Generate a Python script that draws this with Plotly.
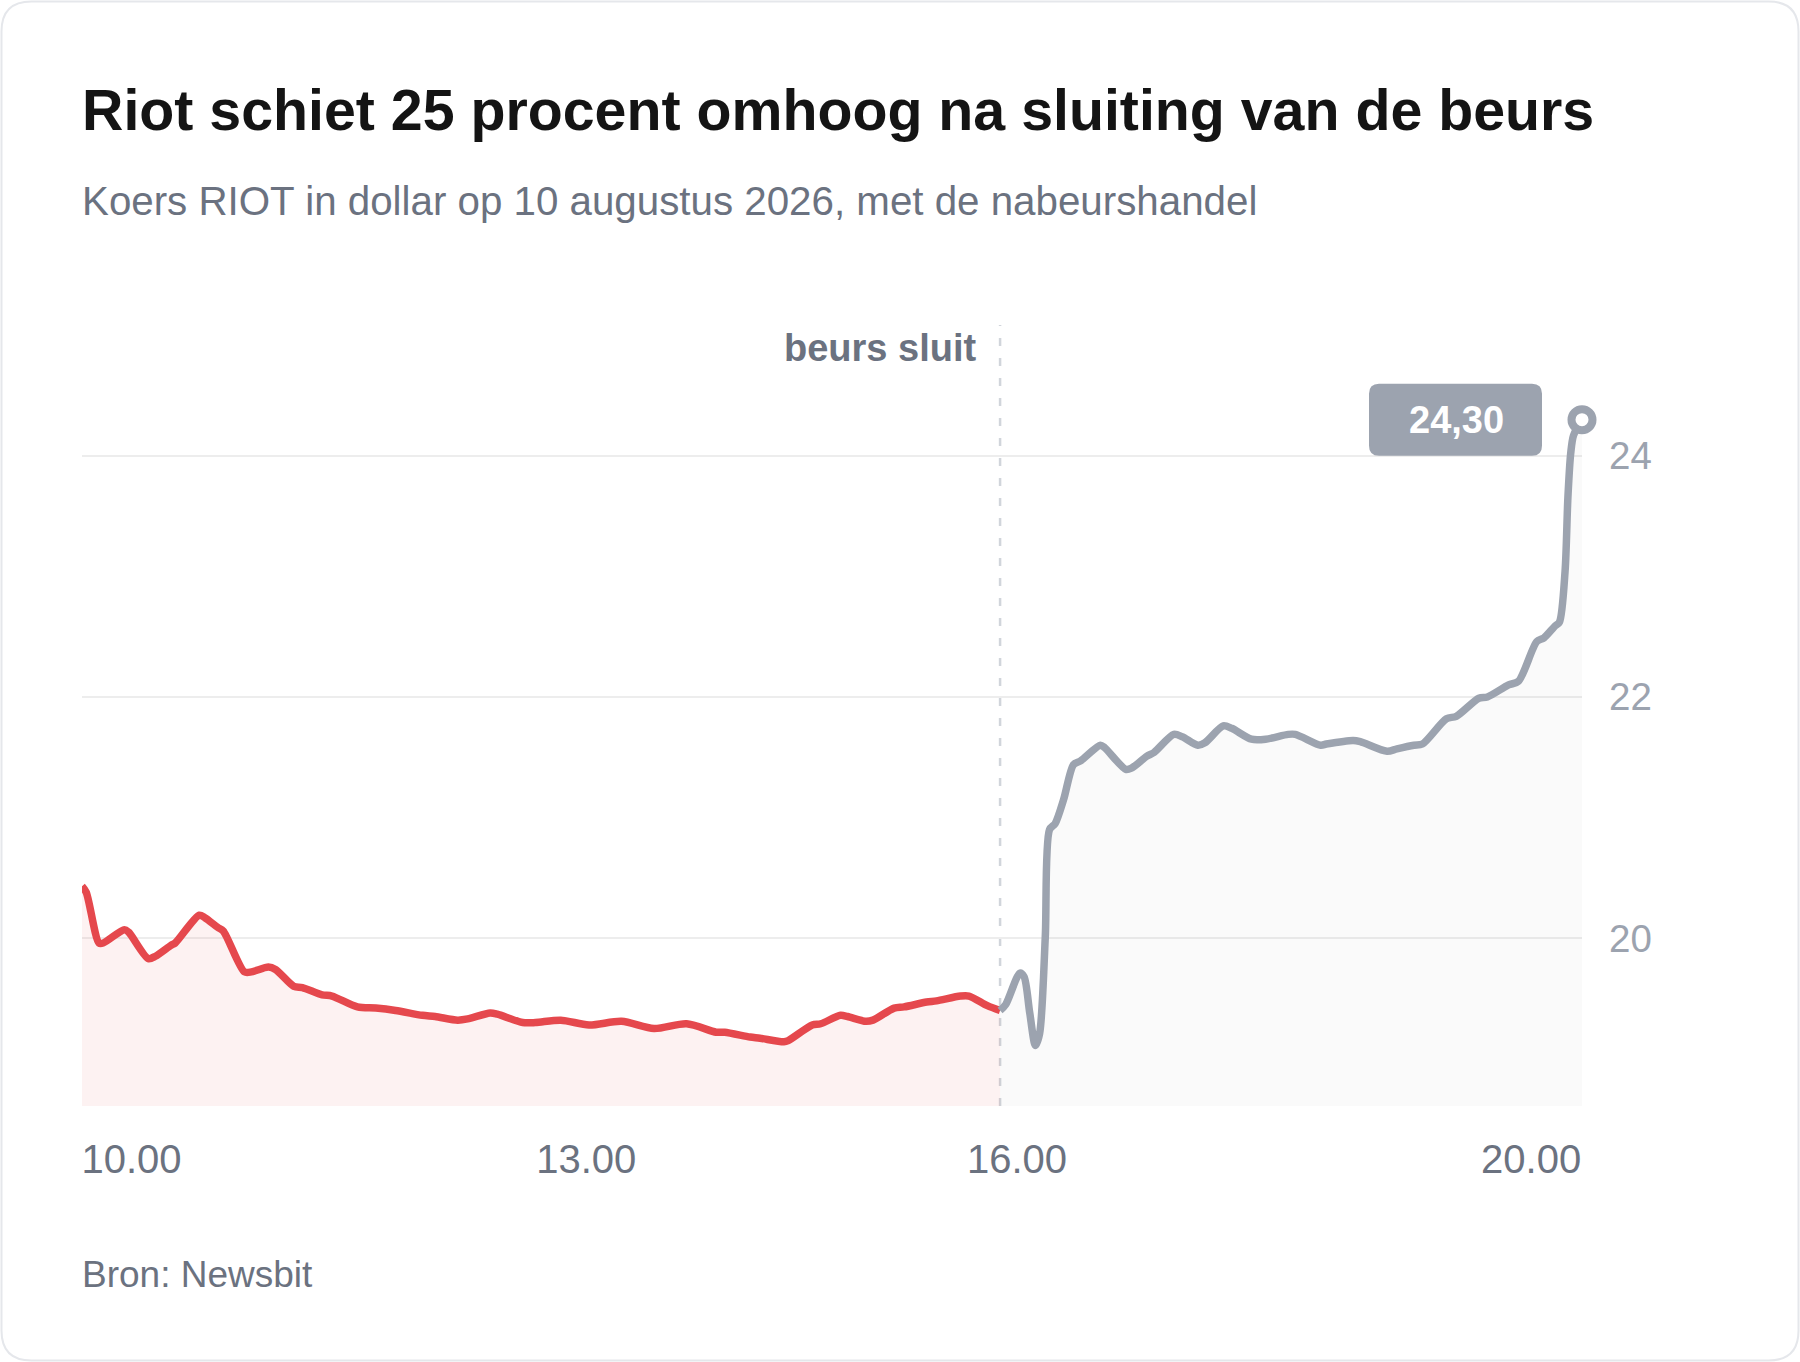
import plotly.graph_objects as go

# Koers RIOT, 10 augustus 2026 (uren als decimale getallen)
red_hours = [9.50, 9.53, 9.62, 9.65, 9.80, 9.83, 9.97, 10.02, 10.13, 10.16,
             10.33, 10.37, 10.46, 10.50, 10.65, 10.70, 10.82, 10.87, 11.00, 11.06,
             11.20, 11.27, 11.45, 11.58, 11.72, 11.91, 12.00, 12.16, 12.23, 12.39,
             12.44, 12.62, 12.71, 12.89, 13.09, 13.32, 13.55, 13.78, 13.99, 14.05,
             14.23, 14.30, 14.47, 14.50, 14.67, 14.73, 14.87, 14.92, 15.05, 15.10,
             15.25, 15.32, 15.48, 15.55, 15.72, 15.78, 15.91, 16.00]
red_price = [20.43, 20.38, 19.96, 19.96, 20.07, 20.05, 19.83, 19.85, 19.94, 19.96,
             20.19, 20.17, 20.09, 20.06, 19.72, 19.72, 19.76, 19.74, 19.60, 19.59,
             19.53, 19.52, 19.43, 19.42, 19.40, 19.36, 19.35, 19.32, 19.33, 19.38,
             19.37, 19.30, 19.30, 19.32, 19.28, 19.31, 19.25, 19.29, 19.22, 19.22,
             19.18, 19.17, 19.14, 19.15, 19.28, 19.29, 19.36, 19.35, 19.31, 19.32,
             19.42, 19.43, 19.47, 19.48, 19.52, 19.52, 19.44, 19.40]

# nabeurshandel
gray_hours = [16.00, 16.04, 16.14, 16.17, 16.21, 16.25, 16.28, 16.32, 16.35, 16.39,
              16.45, 16.52, 16.57, 16.71, 16.74, 16.89, 16.93, 17.04, 17.09, 17.23,
              17.29, 17.40, 17.45, 17.58, 17.64, 17.78, 17.88, 18.04, 18.09, 18.27,
              18.31, 18.50, 18.55, 18.74, 18.81, 18.93, 18.99, 19.16, 19.23, 19.39,
              19.45, 19.60, 19.67, 19.80, 19.85, 19.93, 19.96, 20.00, 20.02, 20.04,
              20.06, 20.12]
gray_price = [19.40, 19.45, 19.71, 19.68, 19.38, 19.11, 19.21, 20.01, 20.90, 20.95,
              21.15, 21.44, 21.47, 21.60, 21.58, 21.40, 21.41, 21.51, 21.54, 21.69,
              21.67, 21.60, 21.62, 21.76, 21.74, 21.65, 21.65, 21.69, 21.69, 21.60,
              21.61, 21.64, 21.63, 21.55, 21.57, 21.60, 21.61, 21.82, 21.84, 21.99,
              22.00, 22.10, 22.13, 22.46, 22.49, 22.59, 22.62, 23.04, 23.65, 24.02,
              24.17, 24.30]

close_hour = 16.0
x_tick_pos = [9.85, 13.07, 16.12, 19.76]
x_tick_text = ["10.00", "13.00", "16.00", "20.00"]
y_ticks = [20, 22, 24]

RED = "#e5484d"
GRAY = "#9ca3af"
MUTED = "#6b7280"
FONT = "Liberation Sans, Arial, sans-serif"

W, H = 1800, 1362
L, R, T, B = 82, 218, 325, 256
PW, PH = W - L - R, H - T - B


def px(x):
    return (x - L) / PW


def py(y):
    return (H - B - y) / PH


fig = go.Figure()

fig.add_trace(go.Scatter(
    x=red_hours, y=red_price, mode="lines",
    line=dict(color=RED, width=7.5, shape="spline", smoothing=0.8),
    fill="tozeroy", fillcolor="rgba(229,72,77,0.07)", hoverinfo="skip"))
fig.add_trace(go.Scatter(
    x=gray_hours, y=gray_price, mode="lines",
    line=dict(color=GRAY, width=7.5, shape="spline", smoothing=0.8),
    fill="tozeroy", fillcolor="rgba(150,150,160,0.05)", hoverinfo="skip"))
fig.add_trace(go.Scatter(
    x=[gray_hours[-1]], y=[gray_price[-1]], mode="markers", cliponaxis=False,
    marker=dict(size=21, color="white", line=dict(color=GRAY, width=8)),
    hoverinfo="skip"))

# rounded card border
rx, ry = 30 / PW, 30 / PH
x0, x1, y0, y1 = px(1.5), px(1798.5), py(1360.5), py(1.5)
card = (f"M {x0+rx},{y1} L {x1-rx},{y1} Q {x1},{y1} {x1},{y1-ry} "
        f"L {x1},{y0+ry} Q {x1},{y0} {x1-rx},{y0} L {x0+rx},{y0} "
        f"Q {x0},{y0} {x0},{y0+ry} L {x0},{y1-ry} Q {x0},{y1} {x0+rx},{y1} Z")
fig.add_shape(type="path", path=card, xref="paper", yref="paper",
              line=dict(color="#e5e7eb", width=2), layer="below")

# vertical line at close
fig.add_shape(type="line", x0=close_hour, x1=close_hour, y0=0, y1=1,
              xref="x", yref="paper", layer="below",
              line=dict(color="#d1d5db", width=2.5, dash="8px,12px"))

# value badge at last point
r = 10
bx0, bx1, by0, by1 = -213, -40, -36, 36
badge = (f"M {bx0+r},{by1} L {bx1-r},{by1} Q {bx1},{by1} {bx1},{by1-r} "
         f"L {bx1},{by0+r} Q {bx1},{by0} {bx1-r},{by0} L {bx0+r},{by0} "
         f"Q {bx0},{by0} {bx0},{by0+r} L {bx0},{by1-r} Q {bx0},{by1} {bx0+r},{by1} Z")
fig.add_shape(type="path", path=badge, xref="x", yref="y",
              xsizemode="pixel", ysizemode="pixel",
              xanchor=gray_hours[-1], yanchor=gray_price[-1],
              fillcolor=GRAY, line=dict(width=0), layer="above")

last_label = f"{gray_price[-1]:.2f}".replace(".", ",")
annotations = [
    dict(x=gray_hours[-1], y=gray_price[-1], xref="x", yref="y",
         xshift=-126, text=f"<b>{last_label}</b>", showarrow=False,
         font=dict(family=FONT, size=38, color="white")),
    dict(x=px(80), y=py(110), xref="paper", yref="paper", xanchor="left", yanchor="middle",
         text="<b>Riot schiet 25 procent omhoog na sluiting van de beurs</b>",
         showarrow=False, font=dict(family=FONT, size=57.3, color="#141414")),
    dict(x=px(80), y=py(201), xref="paper", yref="paper", xanchor="left", yanchor="middle",
         text="Koers RIOT in dollar op 10 augustus 2026, met de nabeurshandel",
         showarrow=False, font=dict(family=FONT, size=40.3, color=MUTED)),
    dict(x=close_hour, y=py(348), xref="x", yref="paper", xanchor="right", yanchor="middle",
         xshift=-22, text="<b>beurs sluit</b>", showarrow=False,
         font=dict(family=FONT, size=38, color=MUTED)),
    dict(x=px(80), y=py(1274), xref="paper", yref="paper", xanchor="left", yanchor="middle",
         text="Bron: Newsbit", showarrow=False,
         font=dict(family=FONT, size=37, color=MUTED)),
]

fig.update_layout(
    width=W, height=H,
    margin=dict(l=L, r=R, t=T, b=B, autoexpand=False),
    paper_bgcolor="white", plot_bgcolor="white",
    showlegend=False,
    annotations=annotations,
    xaxis=dict(range=[red_hours[0], gray_hours[-1]], tickvals=x_tick_pos,
               ticktext=x_tick_text, showgrid=False, zeroline=False,
               showline=False, ticks="", ticklabelstandoff=26,
               tickfont=dict(family=FONT, size=40, color=MUTED)),
    yaxis=dict(range=[18.608, 25.085], tickvals=y_ticks, side="right",
               showgrid=True, gridcolor="#ededed", gridwidth=2,
               zeroline=False, showline=False, ticks="", ticklabelstandoff=26,
               tickfont=dict(family=FONT, size=38.5, color=GRAY)),
)

fig.write_html("out.html", config={"displayModeBar": False},
               post_script="document.body.style.margin='0';")
